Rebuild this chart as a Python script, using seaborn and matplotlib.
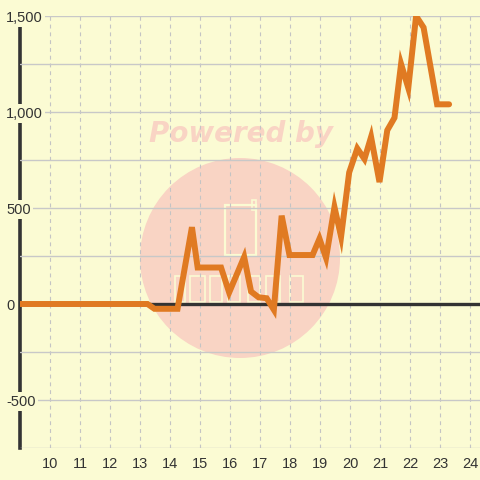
import matplotlib
matplotlib.use("Agg")
import matplotlib.pyplot as plt
import seaborn as sns
import pandas as pd
from matplotlib.patches import Ellipse, Rectangle

# ---- data ----
x_vals = [9.0, 13.25, 13.48, 14.25, 14.73, 14.92, 15.70, 15.97, 16.47, 16.70,
          16.95, 17.22, 17.46, 17.72, 17.98, 18.75, 18.98, 19.20, 19.48, 19.70,
          19.97, 20.24, 20.48, 20.70, 20.98, 21.24, 21.48, 21.70, 21.94, 22.20,
          22.45, 22.90, 23.30]
y_vals = [0, 0, -25, -25, 400, 190, 190, 60, 245, 65,
          35, 30, -30, 460, 255, 255, 340, 240, 505, 350,
          685, 810, 755, 870, 635, 905, 970, 1250, 1125, 1500,
          1440, 1040, 1040]
x_ticks = [10, 11, 12, 13, 14, 15, 16, 17, 18, 19, 20, 21, 22, 23, 24]
y_ticks = [-750, -500, -250, 0, 250, 500, 750, 1000, 1250, 1500]
y_tick_labels = ["", "-500", "", "0", "", "500", "", "1,000", "", "1,500"]

df = pd.DataFrame({"x": x_vals, "y": y_vals})

BG = "#FBFBD3"
ORANGE = "#E07A22"
PINK = "#F9D4C4"
TXT = "#333333"

sns.set_style("white")
plt.rcParams["font.family"] = ["Liberation Sans", "DejaVu Sans"]

fig = plt.figure(figsize=(4.8, 4.8), dpi=100, facecolor=BG)
ax = fig.add_axes([20 / 480, 32 / 480, 460 / 480, 432 / 480])
ax.set_facecolor(BG)

# watermark circle + icon
ax.add_patch(Ellipse((220 / 460, 190 / 432), 200 / 460, 200 / 432,
                     transform=ax.transAxes, facecolor=PINK, edgecolor="none", zorder=0.2))
def px_rect(x0, y0, x1, y1, lw=1.6):
    ax.add_patch(Rectangle(((x0 - 20) / 460, (448 - y1) / 432), (x1 - x0) / 460, (y1 - y0) / 432,
                           transform=ax.transAxes, facecolor="none", edgecolor=BG,
                           linewidth=lw, zorder=0.3))
px_rect(225, 205, 256, 255)
px_rect(252, 200, 256, 210, lw=1.2)
for (a, b) in [(175, 185), (190, 205), (210, 222), (228, 240), (248, 260), (266, 280), (290, 303)]:
    px_rect(a, 276, b, 302, lw=1.2)

ax.text((241 - 20) / 460, (448 - 134) / 432, "Powered by", transform=ax.transAxes,
        ha="center", va="center", fontsize=20, fontweight="bold", fontstyle="italic",
        family="DejaVu Sans", color=PINK, zorder=0.3)

# grid
ax.set_xlim(9, 24.33)
ax.set_ylim(-750, 1500)
ax.set_xticks(x_ticks)
ax.set_yticks(y_ticks)
ax.set_yticklabels(y_tick_labels)
ax.grid(axis="y", color="#C8C8C8", linewidth=1.0, linestyle="-")
ax.grid(axis="x", color="#C4C4C4", linewidth=0.8, linestyle=(0, (3.5, 3.5)))

# zero line
ax.axhline(0, color=TXT, linewidth=2.4, zorder=2.5)

# data line
sns.lineplot(data=df, x="x", y="y", ax=ax, color=ORANGE, linewidth=4.3,
             solid_joinstyle="miter", zorder=3)
ax.set_xlabel("")
ax.set_ylabel("")

for s in ["top", "right", "bottom"]:
    ax.spines[s].set_visible(False)
ax.spines["left"].set_color(TXT)
ax.spines["left"].set_linewidth(2.6)
ax.spines["left"].set_zorder(1.2)

ax.tick_params(axis="x", length=0, pad=6.5, labelsize=10.5, labelcolor=TXT)
ax.tick_params(axis="y", length=0, pad=10, labelsize=10.5, labelcolor=TXT)
for lab in ax.get_yticklabels():
    lab.set_horizontalalignment("left")
    lab.set_bbox(dict(facecolor=BG, edgecolor="none", pad=1.5))
ax.yaxis.set_zorder(2)

fig.savefig("out.png", dpi=100, facecolor=BG)
